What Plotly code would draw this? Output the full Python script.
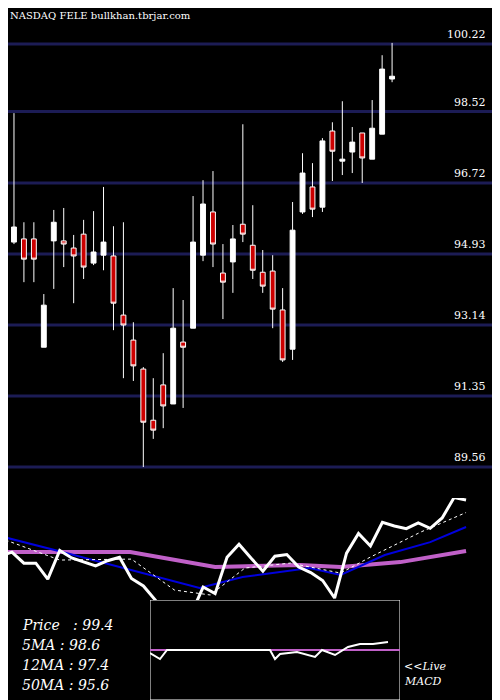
import plotly.graph_objects as go

opens  = [95.15,95.23,95.31,95.31,92.58,95.26,95.26,95.08,95.43,94.70,94.90,94.88,93.39,92.76,92.03,90.74,91.63,91.15,92.71,93.06,
          94.90,95.99,94.45,94.73,95.68,95.15,94.47,94.50,93.52,92.53,95.99,96.62,96.11,98.03,97.27,97.50,97.98,97.32,97.95,99.34]
highs  = [97.70,98.48,95.73,95.73,93.92,96.04,96.09,95.41,95.79,96.01,96.62,95.63,95.73,93.21,92.08,91.80,92.43,94.07,93.77,96.39,
          96.79,97.02,95.18,95.66,98.20,96.16,95.03,94.90,94.07,96.24,97.47,97.22,97.85,98.25,98.78,98.13,97.98,98.81,99.94,100.25]
lows   = [93.82,95.18,94.22,94.22,92.58,94.05,94.60,93.69,94.30,94.65,94.52,93.01,91.80,91.73,89.56,90.27,90.54,91.15,91.05,93.06,
          94.75,94.60,93.29,93.95,95.23,94.30,93.95,93.06,92.21,92.26,95.94,95.86,95.99,96.77,96.92,96.97,96.72,97.32,97.95,99.26]
closes = [95.31,95.61,94.80,94.80,93.64,95.73,95.18,94.88,94.60,94.98,95.23,93.69,93.14,92.11,90.69,90.49,91.10,93.06,92.58,95.23,
          96.19,95.18,94.22,95.31,95.43,94.52,94.12,93.54,92.26,95.53,96.97,96.06,97.78,97.52,97.32,97.75,97.35,98.10,99.59,99.41]
grid_levels = [100.22, 98.52, 96.72, 94.93, 93.14, 91.35, 89.56]

ma5_idx  = [0, 5, 11, 14.6, 17.6, 20.5, 24.3, 28.5, 31, 35.2, 39]
ma5_val  = [96.64, 95.03, 95.10, 92.84, 92.48, 94.45, 94.81, 94.08, 95.25, 97.07, 98.5]
ma12_idx = [0, 4.9, 16.7, 20.3, 25.9, 28.5, 32.2, 36.0, 39]
ma12_val = [96.78, 95.69, 92.99, 93.79, 94.45, 93.94, 95.40, 96.34, 97.44]
ma50_idx = [0, 10.9, 18.0, 25.1, 28.5, 33.5, 39]
ma50_val = [95.61, 95.61, 94.52, 94.67, 94.52, 94.88, 95.69]

macd_x = [0.0, 0.04, 0.068, 0.48, 0.5, 0.52, 0.588, 0.66, 0.688, 0.74, 0.792, 0.84, 0.892, 0.952]
macd_y = [-0.3, -0.9, 0.0, 0.0, -0.9, -0.4, -0.2, -0.7, 0.0, -0.5, 0.3, 0.6, 0.6, 0.8]

OFF = 8  # page body margin offset

def px(P):
    return (P - OFF) / 500

def py(P):
    return 1 - (P - OFF) / 700

idx = list(range(len(closes)))
fig = go.Figure()
for g in grid_levels:
    fig.add_shape(type="line", xref="paper", x0=0, x1=1, yref="y", y0=g, y1=g,
                  line=dict(color="#1c1c55", width=3), layer="below")
fig.add_trace(go.Candlestick(x=idx, open=opens, high=highs, low=lows, close=closes,
    increasing=dict(fillcolor="white", line=dict(color="white", width=1)),
    decreasing=dict(fillcolor="#cc0000", line=dict(color="white", width=1)),
    whiskerwidth=0, showlegend=False, xaxis="x", yaxis="y"))

fig.add_trace(go.Scatter(x=ma50_idx, y=ma50_val, mode="lines", line=dict(color="#c060c8", width=4), xaxis="x2", yaxis="y2"))
fig.add_trace(go.Scatter(x=ma12_idx, y=ma12_val, mode="lines", line=dict(color="#0000dd", width=2), xaxis="x2", yaxis="y2"))
fig.add_trace(go.Scatter(x=ma5_idx, y=ma5_val, mode="lines", line=dict(color="white", width=1, dash="dot"), xaxis="x2", yaxis="y2"))
fig.add_trace(go.Scatter(x=idx, y=closes, mode="lines", line=dict(color="white", width=3), xaxis="x2", yaxis="y2"))

fig.add_trace(go.Scatter(x=[0, 1, 1, 0, 0], y=[-5, -5, 5, 5, -5], mode="lines", fill="toself",
                         fillcolor="black", line=dict(color="white", width=1), xaxis="x3", yaxis="y3"))
fig.add_trace(go.Scatter(x=[0, 1], y=[0, 0], mode="lines", line=dict(color="#c060c8", width=2), xaxis="x3", yaxis="y3"))
fig.add_trace(go.Scatter(x=macd_x, y=macd_y, mode="lines", line=dict(color="white", width=2), xaxis="x3", yaxis="y3"))

ann = []
for g in grid_levels:
    ann.append(dict(x=px(488), xref="paper", y=g, yref="y", text=f"{g:.2f}", showarrow=False,
                    xanchor="right", yanchor="bottom", yshift=1,
                    font=dict(family="DejaVu Serif", size=11, color="white")))
ann.append(dict(x=0, xref="paper", y=1, yref="paper", text="NASDAQ FELE bullkhan.tbrjar.com",
                showarrow=False, xanchor="left", yanchor="top",
                font=dict(family="DejaVu Serif", size=10, color="white")))
labels = ["Price   : 99.4", "5MA : 98.6", "12MA : 97.4", "50MA : 95.6"]
for i, t in enumerate(labels):
    ann.append(dict(x=px(20), xref="paper", y=py(625 + 20 * i), yref="paper", text=f"<i>{t}</i>",
                    showarrow=False, xanchor="left", yanchor="middle",
                    font=dict(family="DejaVu Serif", size=14, color="white")))
for i, t in enumerate(["&lt;&lt;Live", "MACD"]):
    ann.append(dict(x=px(402), xref="paper", y=py(666 + 15 * i), yref="paper", text=f"<i>{t}</i>",
                    showarrow=False, xanchor="left", yanchor="middle",
                    font=dict(family="DejaVu Serif", size=11, color="white")))

ax = dict(showgrid=False, zeroline=False, showticklabels=False, fixedrange=True)
fig.update_layout(
    width=500, height=700, margin=dict(l=0, r=0, t=0, b=0),
    paper_bgcolor="black", plot_bgcolor="black", showlegend=False,
    xaxis=dict(**ax, domain=[0, 1], range=[0.40, 50.65], rangeslider=dict(visible=False)),
    yaxis=dict(**ax, domain=[0.3, 1], range=[88.78, 101.13]),
    xaxis2=dict(**ax, domain=[0, 1], range=[0.67, 42.51], anchor="y2"),
    yaxis2=dict(**ax, domain=[0, 0.3], range=[84.23, 99.56], anchor="x2"),
    xaxis3=dict(**ax, domain=[px(150), px(400)], range=[0, 1], anchor="y3"),
    yaxis3=dict(**ax, domain=[py(700), py(600)], range=[-5, 5], anchor="x3"),
    annotations=ann,
)
fig.write_html("out.html")
